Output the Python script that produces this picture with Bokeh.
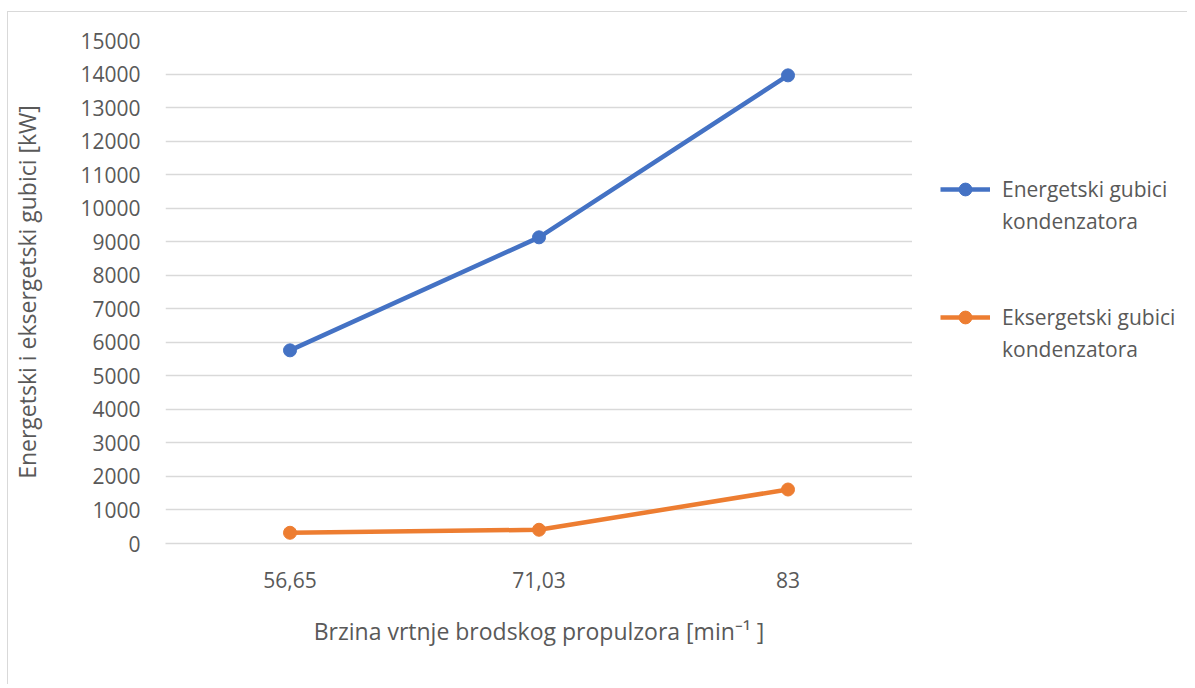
from bokeh.plotting import figure
from bokeh.layouts import row
from bokeh.models import FactorRange, Range1d, Legend, LegendItem, FixedTicker
from bokeh.embed import file_html
from bokeh.resources import INLINE

categories = ["56,65", "71,03", "83"]
energetski = [5760, 9130, 13960]
eksergetski = [320, 410, 1610]
y_ticks = list(range(0, 15001, 1000))
legend_lines = [["Energetski gubici", "kondenzatora"],
                ["Eksergetski gubici", "kondenzatora"]]

FONT = "Open Sans"
TXT = "#595959"
BLUE = "#4472C4"
ORANGE = "#ED7D31"

p = figure(
    width=904, height=672,
    x_range=FactorRange(*categories, range_padding=0),
    y_range=Range1d(0, 15000),
    output_backend="svg", toolbar_location=None,
    min_border_left=157, min_border_right=0,
    min_border_top=28, min_border_bottom=141,
)
p.outline_line_color = None

p.line(categories, energetski, line_color=BLUE, line_width=4.5)
p.scatter(categories, energetski, size=13, fill_color=BLUE, line_color=BLUE)
p.line(categories, eksergetski, line_color=ORANGE, line_width=4.5)
p.scatter(categories, eksergetski, size=13, fill_color=ORANGE, line_color=ORANGE)

p.yaxis.ticker = FixedTicker(ticks=y_ticks)
p.ygrid.grid_line_color = "#d9d9d9"
p.ygrid.grid_line_width = 1.5
p.xgrid.grid_line_color = None

for ax in (p.xaxis, p.yaxis):
    ax.major_tick_line_color = None
    ax.minor_tick_line_color = None
    ax.major_label_text_font = FONT
    ax.major_label_text_color = TXT
    ax.major_label_text_font_size = "21px"
    ax.axis_label_text_font = FONT
    ax.axis_label_text_color = TXT
    ax.axis_label_text_font_size = "23px"
    ax.axis_label_text_font_style = "normal"

p.yaxis.axis_line_color = None
p.yaxis.major_label_standoff = 19
p.yaxis.axis_label = "Energetski i eksergetski gubici [kW]"
p.yaxis.axis_label_standoff = 34
p.xaxis.axis_line_color = "#d9d9d9"
p.xaxis.axis_line_width = 1.5
p.xaxis.major_label_standoff = 22
p.xaxis.axis_label = "Brzina vrtnje brodskog propulzora [min\u207b\u00b9 ]"
p.xaxis.axis_label_standoff = 24

# legend panel (its glyphs sit outside its visible range; only the legend shows)
leg = figure(
    width=275, height=672,
    x_range=Range1d(0, 1), y_range=Range1d(0, 1),
    output_backend="svg", toolbar_location=None,
    min_border=0, x_axis_type=None, y_axis_type=None,
)
leg.outline_line_color = None
leg.grid.visible = False
off = [5]
l1 = leg.line(x=off, y=off, line_color=BLUE, line_width=4.5)
s1 = leg.scatter(x=off, y=off, size=13, fill_color=BLUE, line_color=BLUE)
l2 = leg.line(x=off, y=off, line_color=ORANGE, line_width=4.5)
s2 = leg.scatter(x=off, y=off, size=13, fill_color=ORANGE, line_color=ORANGE)
blank = leg.line(x=off, y=off, line_alpha=0)

items = [
    LegendItem(label=legend_lines[0][0], renderers=[l1, s1]),
    LegendItem(label=legend_lines[0][1], renderers=[blank]),
    LegendItem(label=" ", renderers=[blank]),
    LegendItem(label=" ", renderers=[blank]),
    LegendItem(label=legend_lines[1][0], renderers=[l2, s2]),
    LegendItem(label=legend_lines[1][1], renderers=[blank]),
]
legend = Legend(
    items=items,
    location=(28, 178),
    glyph_width=50,
    glyph_height=32,
    label_height=28,
    label_text_font=FONT,
    label_text_color=TXT,
    label_text_font_size="21px",
    label_standoff=12,
    spacing=0,
    padding=0,
    margin=0,
    background_fill_alpha=0,
    border_line_color=None,
)
leg.add_layout(legend, "center")

layout = row(p, leg, spacing=0,
             styles={"border-left": "1px solid #d9d9d9", "border-top": "1px solid #d9d9d9",
                     "margin-left": "7px", "margin-top": "11px"})

open("out.html", "w").write(file_html(layout, INLINE))
